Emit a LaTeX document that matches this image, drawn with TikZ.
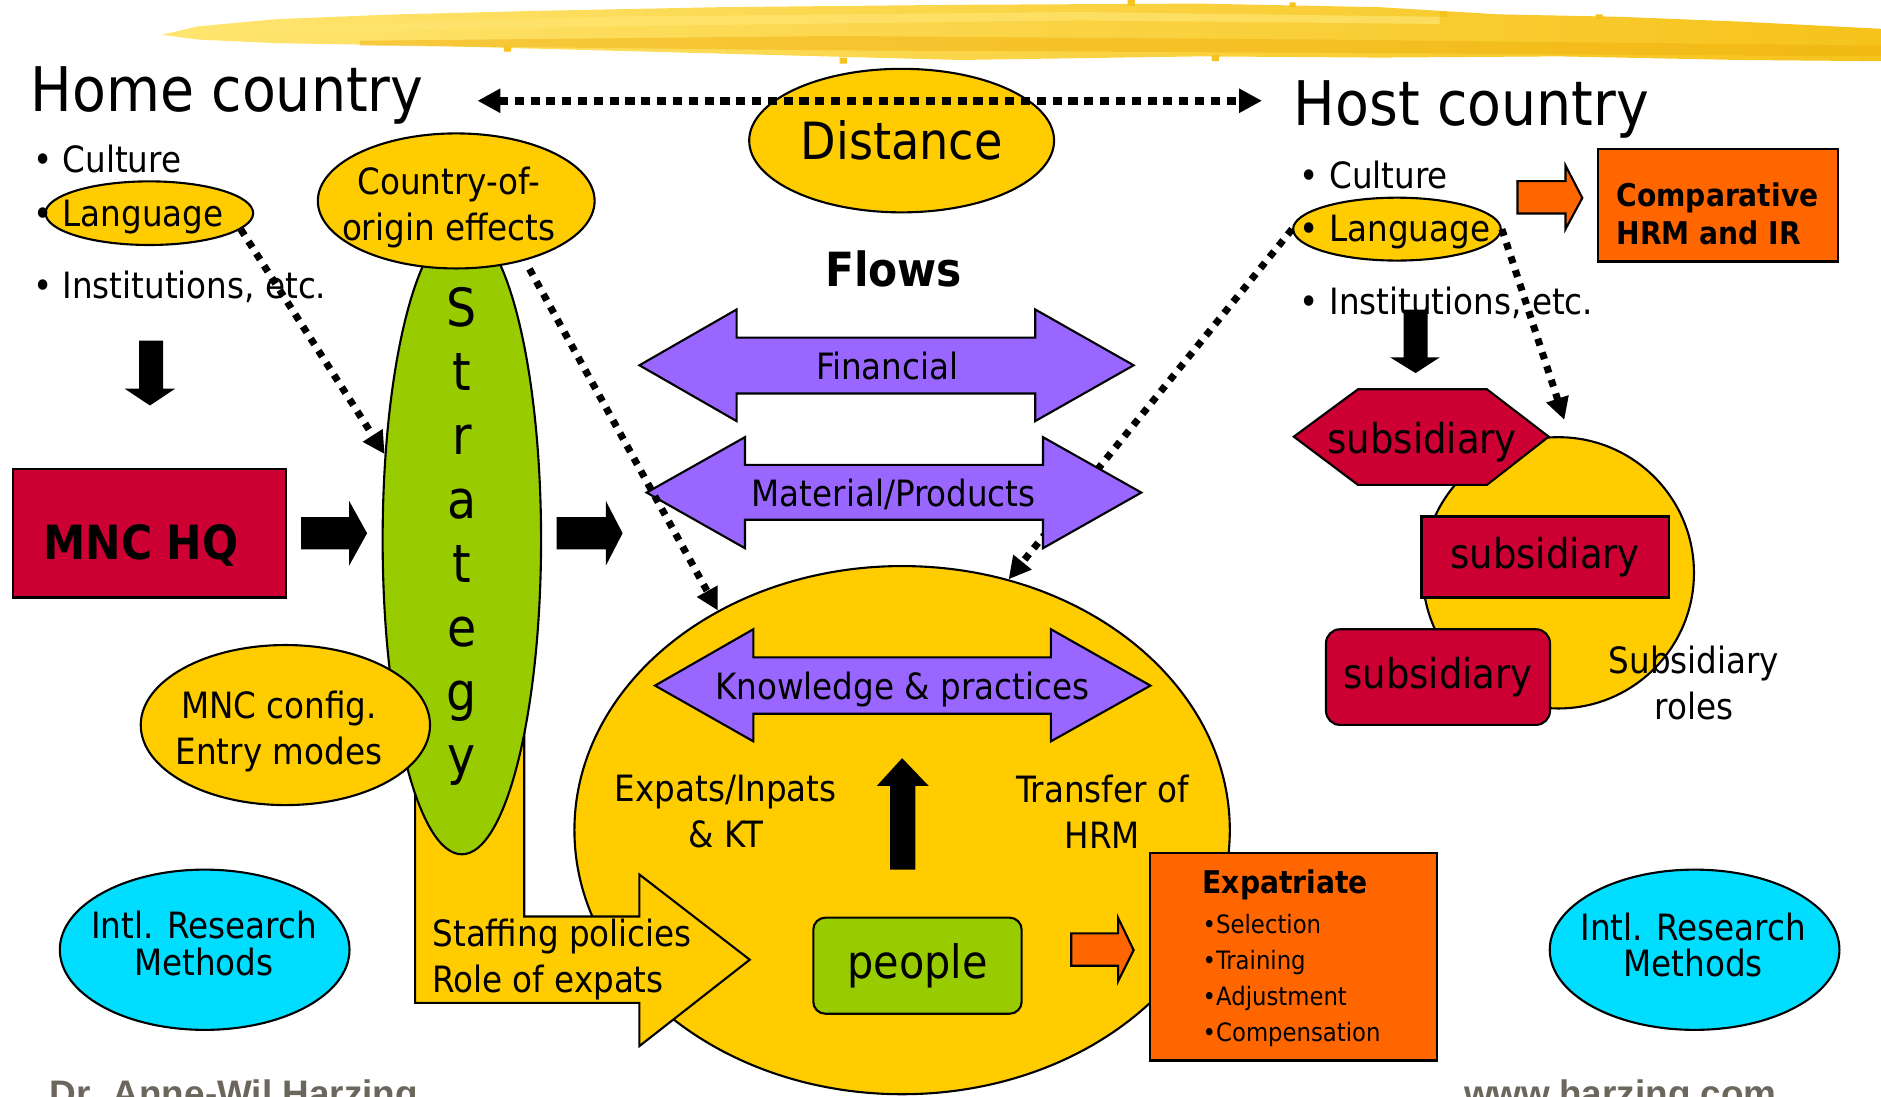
\documentclass[tikz,border=0pt]{standalone}
\usepackage{fontspec}
\setmainfont{DejaVu Sans Condensed}
\newfontfamily\footfont{Liberation Sans}
\usetikzlibrary{arrows.meta,positioning,shapes.geometric}
\definecolor{cgold}{HTML}{FFCC00}
\definecolor{cred}{HTML}{CC0033}
\definecolor{cgreen}{HTML}{99CC00}
\definecolor{cflow}{HTML}{9966FF}
\definecolor{corange}{HTML}{FF6600}
\definecolor{ccyan}{HTML}{00DDFF}
\definecolor{cfoot}{HTML}{6B675C}
\definecolor{cbanlo}{HTML}{FFE570}
\definecolor{cbanhi}{HTML}{F6C31C}
\definecolor{cbanst}{HTML}{EFAE0A}
\tikzset{
  oval/.style={ellipse,draw,line width=0.6pt,inner sep=0pt},
  goldoval/.style={oval,fill=cgold},
  box/.style={draw,line width=0.6pt,inner sep=0pt},
  lbl/.style={inner sep=0pt,font=\fontsize{10.3}{13}\selectfont},
  lbls/.style={lbl,align=center},
  title/.style={inner sep=0pt,font=\fontsize{17.5}{21}\selectfont},
  subtxt/.style={inner sep=0pt,font=\fontsize{11.7}{14}\selectfont},
  dots/.style={line width=2pt,dash pattern=on 2pt off 2.1pt,-{Triangle[length=6.3pt,width=6.3pt]}},
  blk/.style={fill=black},
  flow/.style={draw,fill=cflow,line width=0.6pt},
  orarrow/.style={draw,fill=corange,line width=0.6pt}
}

\begin{document}
\begin{tikzpicture}[x=0.012cm,y=-0.012cm]
  \useasboundingbox (0,0) rectangle (1568,914);
  % banner
  \shade[left color=cbanlo,right color=cbanhi] (135,29) -- (165,22) -- (230,16) -- (330,12) -- (450,9) -- (600,6) -- (800,4) -- (1000,3) -- (1150,6) -- (1250,12) -- (1350,14) -- (1450,18) -- (1568,24) -- (1568,51) -- (1450,50) -- (1300,47) -- (1150,48) -- (1000,47) -- (800,50) -- (650,46) -- (500,42) -- (350,38) -- (230,36) -- (165,33) -- cycle;
  \fill[cbanst,opacity=0.45] (300,34) -- (700,30) -- (1100,33) -- (1568,38) -- (1568,47) -- (1100,44) -- (700,42) -- (300,38) -- cycle;
  \fill[cbanlo,opacity=0.7] (180,24) -- (500,14) -- (900,10) -- (1200,14) -- (1200,20) -- (900,17) -- (500,22) -- (180,29) -- cycle;
  \fill[cbanhi] (940,0) rectangle (946,5) (1075,2) rectangle (1080,6) (1200,10) rectangle (1206,14) (1330,12) rectangle (1336,16) (700,48) rectangle (706,53) (420,39) rectangle (426,43) (1010,46) rectangle (1016,51);

  % home / host
  \node[goldoval,minimum width=3.048cm,minimum height=1.435cm,font=\fontsize{14.6}{17}\selectfont] (dist) at (751.6,117.2) {Distance};
  \coordinate (dl) at (398,84);
  \coordinate (dr) at (1052,84);
  \draw[line width=2.4pt,dash pattern=on 2.6pt off 1.9pt,{Triangle[length=6.5pt,width=6.5pt]}-{Triangle[length=6.5pt,width=6.5pt]}] (dl) -- (dr);
  \node[title,anchor=base west] (home) at (25,92.6) {Home country};
  \node[title,anchor=base west] (host) at (1078,105) {Host country};

  \node[goldoval,minimum width=2.076cm,minimum height=0.636cm] (hlang) at (124.5,177.7) {};
  \node[lbl,anchor=base west] (hcult) at (27,144) {• Culture};
  \node[lbl,anchor=base west] (hlangt) at (27,189) {• Language};
  \node[lbl,anchor=base west] (hinst) at (27,248.5) {• Institutions, etc.};
  \path[blk] (116,284) -- (136,284) -- (136,324) -- (146,324) -- (125,338) -- (104,324) -- (116,324) -- cycle;

  \node[goldoval,minimum width=2.076cm,minimum height=0.629cm] (tlang) at (1164.5,191) {};
  \node[lbl,anchor=base west] (tcult) at (1083,157) {• Culture};
  \node[lbl,anchor=base west] (tlangt) at (1083,201) {• Language};
  \node[lbl,anchor=base west] (tinst) at (1083,262) {• Institutions, etc.};
  \path[blk] (1170,258) -- (1190,258) -- (1190,298) -- (1200,298) -- (1180,311) -- (1159,298) -- (1170,298) -- cycle;

  \path[orarrow] (1265,151) -- (1305,151) -- (1305,138) -- (1319,165) -- (1305,191) -- (1305,178) -- (1265,178) -- cycle;
  \node[box,fill=corange,minimum width=2.4cm,minimum height=1.128cm] (comp) at (1432,171) {};
  \node[inner sep=0pt,align=left,anchor=west,font=\bfseries\fontsize{8.9}{10.9}\selectfont] (compt) at (1347,178.3) {Comparative\\HRM and IR};

  % subsidiaries
  \node[goldoval,minimum width=2.712cm,minimum height=2.712cm] (roles) at (1299,477.5) {};
  \filldraw[fill=cred,line width=0.6pt] (1078.5,364) -- (1132,324.5) -- (1239.5,324.5) -- (1291,364) -- (1239.5,404.2) -- (1132,404.2) -- cycle;
  \node[subtxt] (subhex) at (1185.5,368.2) {subsidiary};
  \node[box,fill=cred,subtxt,minimum width=2.472cm,minimum height=0.809cm] (subrect) at (1288,464.3) {subsidiary};
  \node[box,fill=cred,subtxt,rounded corners=0.14cm,minimum width=2.239cm,minimum height=0.956cm] (subround) at (1198.7,564.4) {subsidiary};
  \node[lbls] (rolest) at (1412,569.2) {Subsidiary\\roles};
  \coordinate (rtip) at (1304,350);

  % centre
  \node[goldoval,minimum width=6.552cm,minimum height=5.28cm] (main) at (752,692) {};
  \filldraw[fill=cgold,line width=0.6pt] (346,600) -- (346,836) -- (533,836) -- (533,872) -- (625,800) -- (533,729) -- (533,764) -- (437,764) -- (437,600) -- cycle;
  \node[lbls,align=left,anchor=west] (staff) at (360,799.8) {Staffing policies\\Role of expats};
  \node[oval,fill=cgreen,minimum width=1.584cm,minimum height=6.288cm] (strat) at (385,450) {};
  \node[inner sep=0pt,align=center,anchor=north,font=\fontsize{15}{18.2}\selectfont] (stratt) at (385,239) {S\\t\\r\\a\\t\\e\\g\\y};
  \node[goldoval,minimum width=2.892cm,minimum height=1.6cm] (config) at (237.9,604.4) {};
  \node[lbls] (configt) at (232.5,609.8) {MNC config.\\Entry modes};
  \node[goldoval,minimum width=2.767cm,minimum height=1.35cm] (coo) at (380.3,167.5) {};
  \node[lbls] (coot) at (374,173.2) {Country-of-\\origin effects};

  \node[box,fill=cred,minimum width=2.731cm,minimum height=1.284cm] (hq) at (124.8,444.5) {};
  \node[inner sep=0pt,anchor=base,font=\bfseries\fontsize{13.4}{16}\selectfont] (hqt) at (117.5,466) {MNC HQ};
  \path[blk] (251,431) -- (291,431) -- (291,417.5) -- (306,444.5) -- (291,471.6) -- (291,458) -- (251,458) -- cycle;
  \path[blk] (464,431) -- (505,431) -- (505,417.5) -- (519,444.5) -- (505,471.6) -- (505,458) -- (464,458) -- cycle;

  \node[inner sep=0pt,anchor=base,font=\bfseries\fontsize{13.4}{16}\selectfont] (flows) at (745,239) {Flows};
  \draw[dots] (tlang.west) -- (main.67.6);
  \path[flow] (533,304.5) -- (614,258) -- (614,281.5) -- (863,281.5) -- (863,258) -- (945,304.5) -- (863,351) -- (863,328) -- (614,328) -- (614,351) -- cycle;
  \node[lbl,anchor=base] (fin) at (739.6,316) {Financial};
  \path[flow] (539,410.6) -- (621,364.4) -- (621,387.5) -- (869.4,387.5) -- (869.4,364.4) -- (951.4,410.6) -- (869.4,457) -- (869.4,433.3) -- (621,433.3) -- (621,457) -- cycle;
  \node[lbl,anchor=base] (mat) at (745,422.6) {Material/Products};
  \path[flow] (546,571.5) -- (628,524.5) -- (628,548) -- (876,548) -- (876,524.5) -- (959,571.5) -- (876,618) -- (876,595) -- (628,595) -- (628,618) -- cycle;
  \node[lbl,anchor=base] (know) at (752,582.7) {Knowledge \& practices};

  \draw[dots,shorten <=2.7pt] (coo.-41.5) -- (main.130);
  \draw[dots] (hlang.-10) -- (strat.132);
  \draw[dots] (tlang.east) -- (rtip);

  \node[lbls] (expats) at (605,676.6) {Expats/Inpats\\\& KT};
  \node[lbls] (transf) at (919,676.6) {Transfer of\\HRM};
  \path[blk] (742,725) -- (763,725) -- (763,655) -- (774,655) -- (752,632) -- (731,655) -- (742,655) -- cycle;
  \node[box,fill=cgreen,rounded corners=0.12cm,minimum width=2.083cm,minimum height=0.96cm,font=\fontsize{13.1}{16}\selectfont] (people) at (764.8,805) {people};
  \path[orarrow] (893,778) -- (932,778) -- (932,765) -- (945,792) -- (932,818) -- (932,805) -- (893,805) -- cycle;
  \node[box,fill=corange,minimum width=2.875cm,minimum height=2.076cm] (expat) at (1078.2,797.5) {};
  \node[inner sep=0pt,anchor=base west,font=\bfseries\fontsize{8.9}{11}\selectfont] (expatt) at (1002,745) {Expatriate};
  \node[inner sep=0pt,align=left,anchor=west,font=\fontsize{7.2}{10.24}\selectfont] (expatl) at (1002,817.2) {•Selection\\•Training\\•Adjustment\\•Compensation};

  % research methods
  \node[oval,fill=ccyan,minimum width=2.896cm,minimum height=1.602cm] (irm1) at (170.6,791.7) {};
  \node[inner sep=0pt,align=center,font=\fontsize{10.3}{10.3}\selectfont] (irm1t) at (170,786.5) {Intl. Research\\Methods};
  \node[oval,fill=ccyan,minimum width=2.896cm,minimum height=1.602cm] (irm2) at (1412.6,791.7) {};
  \node[inner sep=0pt,align=center,font=\fontsize{10.3}{10.3}\selectfont] (irm2t) at (1411.5,787.9) {Intl. Research\\Methods};

  \node[inner sep=0pt,anchor=base west,text=cfoot,font=\footfont\bfseries\fontsize{10.5}{12}\selectfont] (author) at (41,922) {Dr. Anne-Wil Harzing};
  \node[inner sep=0pt,anchor=base west,text=cfoot,font=\footfont\bfseries\fontsize{10.5}{12}\selectfont] (web) at (1220,922) {www.harzing.com};
\end{tikzpicture}
\end{document}
